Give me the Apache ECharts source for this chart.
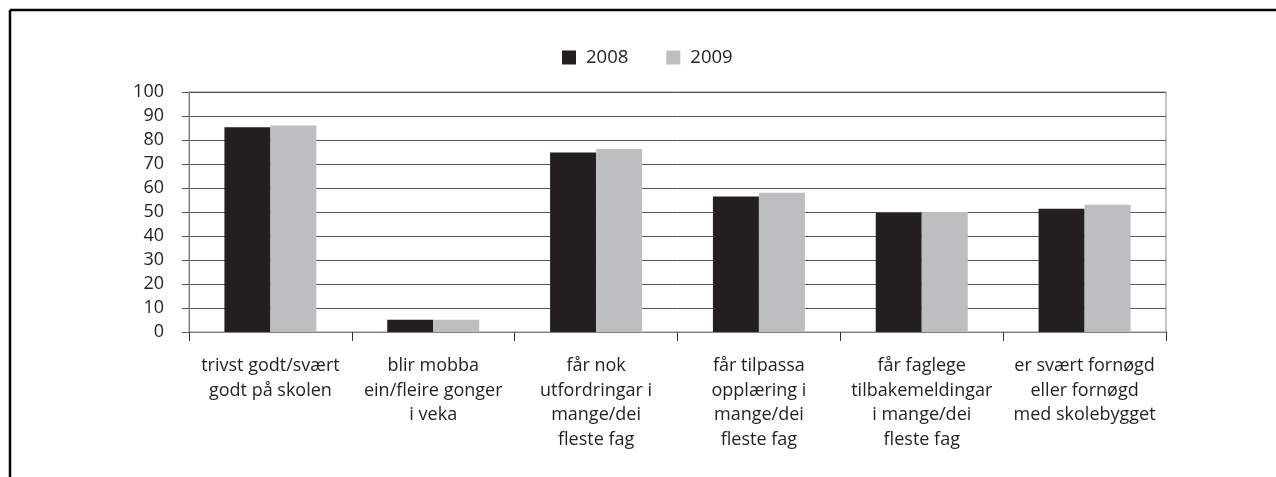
<!DOCTYPE html>
<html>
<head>
<meta charset="utf-8">
<script src="https://cdn.jsdelivr.net/npm/echarts@6/dist/echarts.min.js"></script>
<style>
html,body{margin:0;padding:0;background:#fff;}
#c{width:1276px;height:477px;}
</style>
</head>
<body>
<div id="c"></div>
<script>
const categories = [
  "trivst godt/svært\ngodt på skolen",
  "blir mobba\nein/fleire gonger\ni veka",
  "får nok\nutfordringar i\nmange/dei\nfleste fag",
  "får tilpassa\nopplæring i\nmange/dei\nfleste fag",
  "får faglege\ntilbakemeldingar\ni mange/dei\nfleste fag",
  "er svært fornøgd\neller fornøgd\nmed skolebygget"
];
const seriesNames = ["2008", "2009"];
const values2008 = [85.3, 5.1, 74.8, 56.5, 49.6, 51.4];
const values2009 = [86.0, 5.1, 76.3, 58.0, 50.0, 53.0];
const yTicks = [0, 10, 20, 30, 40, 50, 60, 70, 80, 90, 100];

const font = "'Open Sans', 'Noto Sans', sans-serif";
const textColor = "#231f20";
const chart = echarts.init(document.getElementById('c'), null, {renderer: 'canvas'});
chart.setOption({
  animation: false,
  backgroundColor: '#fff',
  textStyle: {fontFamily: font, color: textColor},
  legend: {
    left: 557, top: 43,
    itemWidth: 14, itemHeight: 14, itemGap: 38,
    icon: 'rect',
    data: seriesNames,
    textStyle: {fontSize: 18.5, color: textColor, fontFamily: font, padding: [0, 0, 0, 5]}
  },
  grid: {
    left: 189, right: 110, top: 92, bottom: 145,
    show: true, borderColor: '#888', borderWidth: 1
  },
  xAxis: {
    type: 'category',
    data: categories,
    axisLine: {lineStyle: {color: '#808080', width: 1}},
    axisTick: {show: true, length: 9, lineStyle: {color: '#333'}},
    axisLabel: {fontSize: 18, lineHeight: 24.5, color: textColor, fontFamily: font, margin: 22, interval: 0, align: 'center'}
  },
  yAxis: {
    type: 'value',
    min: yTicks[0], max: yTicks[yTicks.length - 1], interval: 10,
    axisLine: {show: true, lineStyle: {color: '#808080', width: 1}},
    axisTick: {show: true, length: 7, lineStyle: {color: '#555'}},
    axisLabel: {fontSize: 18, color: textColor, fontFamily: font, margin: 25},
    splitLine: {show: true, lineStyle: {color: '#555', width: 1}}
  },
  series: [
    {name: seriesNames[0], type: 'bar', data: values2008, barWidth: 46, barGap: '0%',
     itemStyle: {color: '#231f20'}},
    {name: seriesNames[1], type: 'bar', data: values2009, barWidth: 46,
     itemStyle: {color: '#bcbec0'}}
  ],
  graphic: [
    {type: 'line', shape: {x1: 10, y1: 10, x2: 1276, y2: 10}, style: {stroke: '#000', lineWidth: 2.5}},
    {type: 'line', shape: {x1: 10, y1: 10, x2: 10, y2: 477}, style: {stroke: '#000', lineWidth: 2.5}}
  ]
});
</script>
</body>
</html>
